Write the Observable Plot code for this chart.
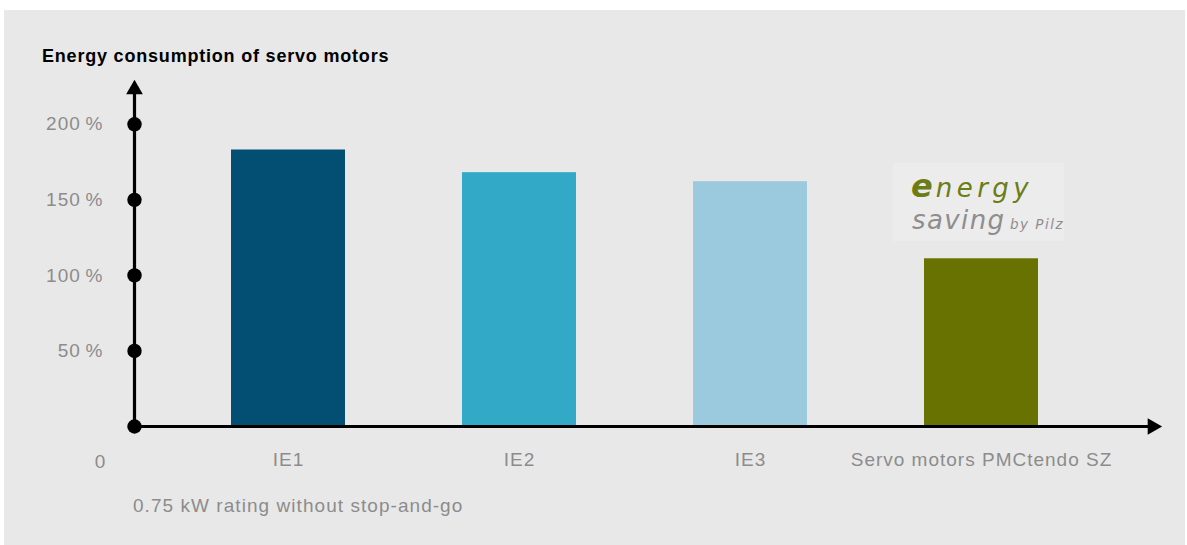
<!DOCTYPE html>
<html>
<head>
<meta charset="utf-8">
<script src="https://cdn.jsdelivr.net/npm/d3@7"></script>
<script src="https://cdn.jsdelivr.net/npm/@observablehq/plot@0.6"></script>
<style>
  html, body { margin: 0; padding: 0; background: #ffffff; }
  #wrap { position: relative; width: 1187px; height: 545px; overflow: hidden; font-family: "Liberation Sans", Arial, Helvetica, sans-serif; }
  #panel { position: absolute; left: 4px; top: 10px; width: 1181px; height: 535px; background: #e8e8e8; }
  #chart { position: absolute; left: 0; top: 0; }
  #title { position: absolute; left: 42px; top: 46px; font-size: 18px; line-height: 20px; font-weight: bold; color: #000; white-space: nowrap; letter-spacing: 0.8px; }
  #caption { position: absolute; left: 133px; top: 495px; font-size: 19px; line-height: 22px; color: #8c8c8c; white-space: nowrap; letter-spacing: 1.05px; }
  #logo { position: absolute; left: 893px; top: 163px; overflow: visible; }
</style>
</head>
<body>
<div id="wrap">
  <div id="panel"></div>
  <div id="chart"></div>
  <div id="title">Energy consumption of servo motors</div>
  <svg id="logo" width="171" height="78">
    <rect width="171" height="78" fill="#ececec"></rect>
    <text font-family="'DejaVu Sans'" font-style="italic"><tspan x="18" y="34" font-size="32" font-weight="bold" fill="#6b7d14">e</tspan><tspan font-size="26" letter-spacing="4.5" dx="3" fill="#6b7d14">nergy</tspan><tspan x="19" y="66" font-size="26" letter-spacing="1.4" fill="#8e8e8e">saving</tspan><tspan x="117" y="66" font-size="13.5" letter-spacing="1.5" fill="#8e8e8e">by Pilz</tspan></text>
  </svg>
  <div id="caption">0.75 kW rating without stop-and-go</div>
</div>
<script>
// Data
const categories = ["IE1", "IE2", "IE3", "Servo motors PMCtendo SZ"];
const consumption = [183, 168, 162, 111];
const barColors = ["#034f73", "#33a9c8", "#9bc9de", "#677200"];
const yTicks = [0, 50, 100, 150, 200];
const yTickLabels = [50, 100, 150, 200];
const yAxisMax = [229];
const zeroLabel = ["0"];

const rows = categories.map((c, i) => ({category: c, value: consumption[i], color: barColors[i]}));

const plot = Plot.plot({
  width: 1187,
  height: 545,
  marginLeft: 134,
  marginRight: 26,
  marginTop: 80,
  marginBottom: 119,
  style: {background: "transparent", fontSize: "19px", letterSpacing: "1px", fontFamily: "'Liberation Sans', Arial, Helvetica, sans-serif", color: "#8c8c8c", overflow: "visible"},
  x: {domain: categories, range: [112, 1157], padding: 0.508, label: null, tickSize: 0, tickPadding: 26},
  y: {domain: [0, yAxisMax[0]], label: null, ticks: yTickLabels, tickSize: 0, tickPadding: 31, tickFormat: d => d + "\u2009%"},
  color: {type: "identity"},
  marks: [
    Plot.barY(rows, {x: "category", y: "value", fill: "color"}),
    Plot.ruleY([0], {stroke: "#000", strokeWidth: 3.2, insetRight: 12}),
    Plot.ruleX([0], {x: null, stroke: "#000", strokeWidth: 3.2, className: "yaxisline"}),
    Plot.dot(yTicks, {y: d => d, frameAnchor: "left", r: 7.2, fill: "#000", stroke: null}),
    Plot.dot(yAxisMax, {y: d => d, frameAnchor: "left", symbol: "triangle", r: 6.2, fill: "#000", stroke: null, dy: 9, className: "yarrow"}),
    Plot.dot([0], {y: d => d, frameAnchor: "right", symbol: "triangle", r: 6.2, fill: "#000", stroke: null, dx: -9, className: "xarrow"}),
    Plot.text(zeroLabel, {y: d => 0, text: d => d, frameAnchor: "left", textAnchor: "middle", dx: -34, dy: 35, fill: "#8c8c8c", fontSize: 19})
  ]
});

// place the y-axis line on the left edge of the frame, from 0 up to the arrowhead
const yScale = plot.scale("y");
const leftEdge = 134;
d3.select(plot).selectAll(".yaxisline line")
  .attr("x1", leftEdge).attr("x2", leftEdge)
  .attr("y1", yScale.apply(0)).attr("y2", yScale.apply(yAxisMax[0]) + 12);

// rotate the x-axis arrowhead to point right
d3.select(plot).selectAll(".xarrow path").each(function() {
  const t = this.getAttribute("transform") || "";
  this.setAttribute("transform", t + " rotate(90)");
});

document.getElementById("chart").appendChild(plot);
</script>
</body>
</html>
